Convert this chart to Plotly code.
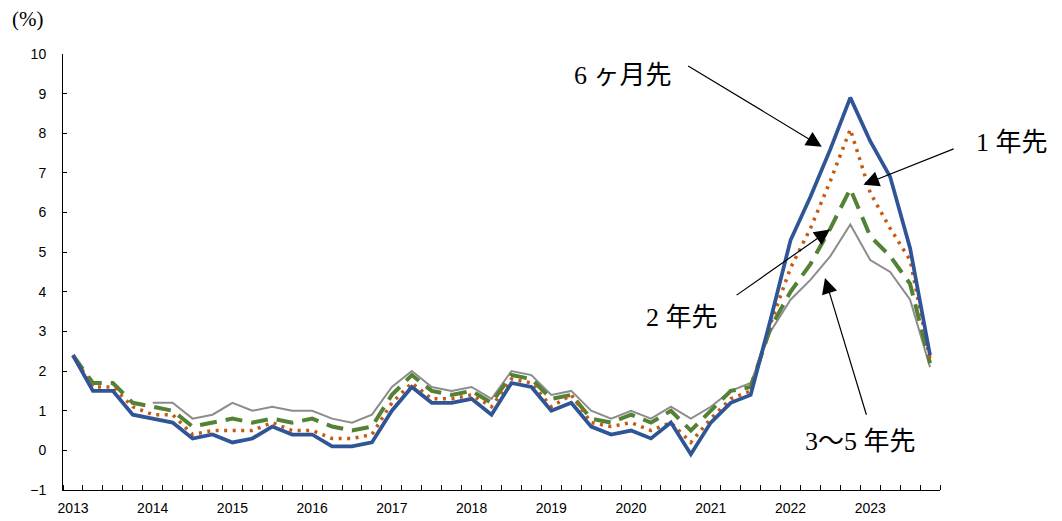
import plotly.graph_objects as go

# Quarterly periods 2013Q1 - 2023Q4
years = [2013, 2014, 2015, 2016, 2017, 2018, 2019, 2020, 2021, 2022, 2023]
periods = [f"{y}Q{q}" for y in years for q in range(1, 5)]
xpos = list(range(len(periods)))

# Expected inflation by horizon (%)
six_months = [2.4, 1.5, 1.5, 0.9, 0.8, 0.7, 0.3, 0.4, 0.2, 0.3, 0.6, 0.4,
              0.4, 0.1, 0.1, 0.2, 1.0, 1.6, 1.2, 1.2, 1.3, 0.9, 1.7, 1.6,
              1.0, 1.2, 0.6, 0.4, 0.5, 0.3, 0.7, -0.1, 0.7, 1.2, 1.4, 3.3,
              5.3, 6.4, 7.6, 8.9, 7.8, 6.9, 5.1, 2.4]
one_year = [2.4, 1.6, 1.6, 1.1, 0.9, 0.9, 0.4, 0.5, 0.5, 0.5, 0.7, 0.5,
            0.5, 0.3, 0.3, 0.4, 1.2, 1.7, 1.3, 1.3, 1.4, 1.1, 1.8, 1.7,
            1.1, 1.4, 0.7, 0.6, 0.7, 0.5, 0.7, 0.2, 0.8, 1.3, 1.5, 3.2,
            4.6, 5.6, 6.8, 8.1, 6.5, 5.6, 4.8, 2.3]
two_years = [2.4, 1.7, 1.7, 1.2, 1.1, 1.0, 0.6, 0.7, 0.8, 0.7, 0.8, 0.7,
             0.8, 0.6, 0.5, 0.6, 1.4, 1.9, 1.5, 1.4, 1.5, 1.2, 1.9, 1.8,
             1.3, 1.4, 0.8, 0.7, 0.9, 0.7, 1.0, 0.5, 1.0, 1.5, 1.6, 3.1,
             4.0, 4.7, 5.6, 6.6, 5.4, 4.9, 4.2, 2.2]
three_five_years = [None, None, None, None, 1.2, 1.2, 0.8, 0.9, 1.2, 1.0, 1.1, 1.0,
                    1.0, 0.8, 0.7, 0.9, 1.6, 2.0, 1.6, 1.5, 1.6, 1.3, 2.0, 1.9,
                    1.4, 1.5, 1.0, 0.8, 1.0, 0.8, 1.1, 0.8, 1.1, 1.5, 1.7, 3.0,
                    3.8, 4.3, 4.9, 5.7, 4.8, 4.5, 3.8, 2.1]

series_names = ["6 ヶ月先", "1 年先", "2 年先", "3～5 年先"]
year_ticks = [str(y) for y in years]
year_tickpos = [i for i, p in enumerate(periods) if p.endswith("Q1")]
y_ticks = list(range(-1, 11))

fig = go.Figure()
fig.add_trace(go.Scatter(x=xpos, y=three_five_years, mode="lines", name=series_names[3],
                         line=dict(color="#8c8c8c", width=2)))
fig.add_trace(go.Scatter(x=xpos, y=two_years, mode="lines", name=series_names[2],
                         line=dict(color="#548235", width=4, dash="17px,9px")))
fig.add_trace(go.Scatter(x=xpos, y=one_year, mode="lines", name=series_names[1],
                         line=dict(color="#c55a11", width=3.5, dash="3px,5.5px")))
fig.add_trace(go.Scatter(x=xpos, y=six_months, mode="lines", name=series_names[0],
                         line=dict(color="#2f5597", width=3.75)))

label_font = dict(family="Liberation Serif, Noto Sans CJK JP", size=26, color="black")

# Callout arrows: (tip x, tip y, tail x, tail y) in data units
arrows = [
    (37.57, 7.66, 30.79, 9.72),
    (39.66, 6.70, 44.26, 7.62),
    (37.98, 5.57, 33.22, 3.89),
    (37.73, 4.35, 39.83, 0.86),
]
for tx, ty, ax, ay in arrows:
    fig.add_annotation(x=tx, y=ty, ax=ax, ay=ay, xref="x", yref="y", axref="x", ayref="y",
                       text="", showarrow=True, arrowhead=2, arrowsize=2.6, arrowwidth=1.2,
                       arrowcolor="black", standoff=0)

# Series labels (plot-area fractions)
label_pos = [(0.6385, 0.9518), (1.0821, 0.7959), (0.7058, 0.3945), (0.9088, 0.1101)]
for name, (lx, ly) in zip(series_names, label_pos):
    fig.add_annotation(x=lx, y=ly, xref="paper", yref="paper", text=name, showarrow=False,
                       xanchor="center", yanchor="middle", font=label_font)

fig.add_annotation(x=-0.041, y=1.080, xref="paper", yref="paper", text="(%)",
                   showarrow=False, xanchor="center", yanchor="middle",
                   font=dict(family="Liberation Serif", size=21, color="black"))

tick_font = dict(family="Liberation Sans", size=14, color="black")
fig.update_layout(
    width=1062, height=521,
    margin=dict(l=63, r=122, t=54, b=31),
    paper_bgcolor="white", plot_bgcolor="white",
    showlegend=False,
    xaxis=dict(
        range=[-0.5, 43.5], tickmode="array", tickvals=year_tickpos, ticktext=year_ticks,
        ticks="", showgrid=False, zeroline=False, showline=True, linecolor="black",
        linewidth=1, tickfont=tick_font, ticklabelstandoff=5, automargin=False,
        minor=dict(tickmode="linear", tick0=-0.5, dtick=1, ticks="inside", ticklen=5,
                   tickcolor="black", tickwidth=1, showgrid=False),
    ),
    yaxis=dict(
        range=[-1, 10], tickmode="array", tickvals=y_ticks, ticks="inside", ticklen=4,
        tickcolor="black", showgrid=False, zeroline=False, showline=True,
        linecolor="black", linewidth=1, tickfont=tick_font, ticklabelstandoff=13,
        automargin=False,
    ),
)

fig.write_html("out.html")
